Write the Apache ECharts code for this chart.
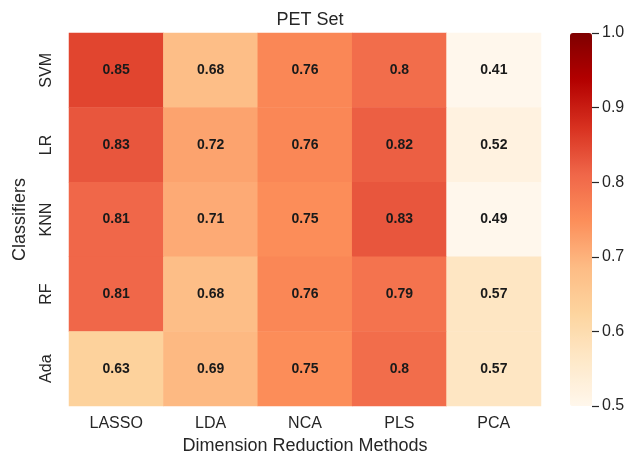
<!DOCTYPE html>
<html>
<head>
<meta charset="utf-8">
<script src="https://cdn.jsdelivr.net/npm/echarts@6/dist/echarts.min.js"></script>
<style>
  html, body { margin: 0; padding: 0; background: #ffffff; }
  #chart { width: 634px; height: 452px; }
</style>
</head>
<body>
<div id="chart"></div>
<script>
// Dimension reduction methods (columns) and classifiers (rows, top to bottom)
const methods = ['LASSO', 'LDA', 'NCA', 'PLS', 'PCA'];
const classifiers = ['SVM', 'LR', 'KNN', 'RF', 'Ada'];

// Scores per classifier, in the order of `methods`
const svmScores = [0.85, 0.68, 0.76, 0.8, 0.41];
const lrScores = [0.83, 0.72, 0.76, 0.82, 0.52];
const knnScores = [0.81, 0.71, 0.75, 0.83, 0.49];
const rfScores = [0.81, 0.68, 0.76, 0.79, 0.57];
const adaScores = [0.63, 0.69, 0.75, 0.8, 0.57];

// Colour bar scale
const scaleMin = 0.5;
const scaleMax = 1.0;
const scaleStep = 0.1;

const rows = [svmScores, lrScores, knnScores, rfScores, adaScores];
const cells = [];
rows.forEach((vals, r) => {
  vals.forEach((v, c) => cells.push([c, r, v]));
});

const font = '"Liberation Sans", Arial, Helvetica, sans-serif';
const textColor = '#262626';
const orRd = ['#fff7ec', '#fee8c8', '#fdd49e', '#fdbb84', '#fc8d59', '#ef6548', '#d7301f', '#b30000', '#7f0000'];

const chart = echarts.init(document.getElementById('chart'), null, { renderer: 'canvas' });
chart.setOption({
  backgroundColor: '#ffffff',
  animation: false,
  title: {
    text: 'PET Set',
    left: 305,
    textAlign: 'center',
    top: 6,
    textStyle: { fontFamily: font, fontSize: 18, fontWeight: 'normal', color: textColor }
  },
  grid: [
    { left: 69, top: 33, width: 472, height: 373, outerBoundsMode: 'none', containLabel: false },
    { left: 570, top: 33, width: 22, height: 373, outerBoundsMode: 'none', containLabel: false }
  ],
  xAxis: [
    {
      type: 'category', gridIndex: 0, data: methods,
      axisLine: { show: false }, axisTick: { show: false }, splitLine: { show: false },
      axisLabel: { fontFamily: font, fontSize: 16, color: textColor, margin: 10 },
      name: 'Dimension Reduction Methods', nameLocation: 'middle', nameGap: 25,
      nameTextStyle: { fontFamily: font, fontSize: 18, color: textColor }
    },
    {
      type: 'value', gridIndex: 1, min: 0, max: 1,
      axisLine: { show: false }, axisTick: { show: false }, axisLabel: { show: false },
      splitLine: { show: false }
    }
  ],
  yAxis: [
    {
      type: 'category', gridIndex: 0, data: classifiers, inverse: true,
      axisLine: { show: false }, axisTick: { show: false }, splitLine: { show: false },
      axisLabel: { fontFamily: font, fontSize: 16, color: textColor, rotate: 90, margin: 14 },
      name: 'Classifiers', nameLocation: 'middle', nameGap: 40, nameRotate: 90,
      nameTextStyle: { fontFamily: font, fontSize: 18, color: textColor }
    },
    {
      // colour bar scale, drawn on the right edge of the bar
      type: 'value', gridIndex: 1, position: 'right', z: 10,
      min: scaleMin, max: scaleMax, interval: scaleStep,
      axisLine: { show: true, onZero: false, lineStyle: { color: 'rgba(0,0,0,0)' } },
      axisTick: { show: true, inside: false, length: 7, lineStyle: { color: textColor, width: 1.2 } },
      splitLine: { show: false },
      axisLabel: {
        fontFamily: font, fontSize: 16, color: textColor, margin: 10,
        formatter: v => v.toFixed(1)
      }
    }
  ],
  visualMap: {
    type: 'continuous',
    seriesIndex: 0,
    min: scaleMin, max: scaleMax,
    calculable: false,
    orient: 'vertical',
    left: 570, top: 33,
    itemWidth: 22, itemHeight: 373,
    padding: 0,
    text: null,
    z: 2,
    inRange: { color: orRd },
    outOfRange: { color: '#fff7ec' }
  },
  series: [
    {
      type: 'heatmap',
      xAxisIndex: 0, yAxisIndex: 0,
      data: cells,
      label: {
        show: true,
        fontFamily: font, fontSize: 14, fontWeight: 'bold', color: '#1a1a1a',
        formatter: p => String(p.value[2])
      },
      itemStyle: { borderWidth: 0 },
      emphasis: { disabled: true }
    },
    {
      type: 'scatter', xAxisIndex: 1, yAxisIndex: 1, data: [], silent: true
    }
  ]
});
</script>
</body>
</html>
